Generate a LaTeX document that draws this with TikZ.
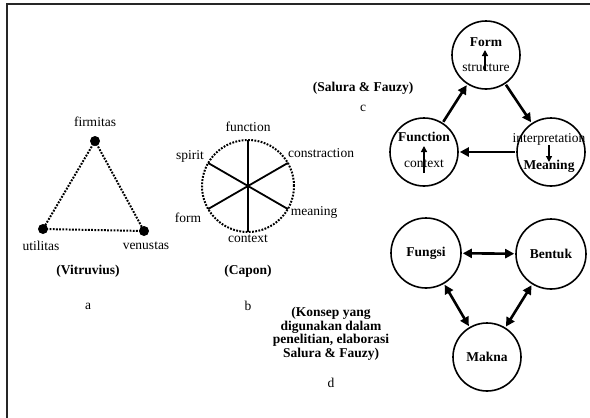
\documentclass[tikz,border=0pt]{standalone}
\usepackage{fontspec}
\setmainfont{Liberation Serif}
\usetikzlibrary{arrows.meta}
\begin{document}
\begin{tikzpicture}[x=1pt,y=-1pt,
  txt/.style={inner sep=1pt,font=\fontsize{13.5}{14}\selectfont},
  btxt/.style={inner sep=1pt,font=\fontsize{13.5}{14}\selectfont\bfseries},
  dot/.style={circle,fill=black,inner sep=0pt,minimum size=10pt},
  dotline/.style={line width=2pt,dash pattern=on 1.8pt off 1.4pt},
  ring/.style={circle,draw,line width=1.6pt,minimum size=68pt,inner sep=0pt},
  bigarrow/.style={line width=2.6pt,-{Triangle[length=9pt,width=9pt]},shorten <=1pt,shorten >=1pt},
  dblarrow/.style={line width=2.6pt,{Triangle[length=9pt,width=9pt]}-{Triangle[length=9pt,width=9pt]},shorten <=1pt,shorten >=1pt},
  smallarrow/.style={line width=1.3pt,-{Triangle[length=6pt,width=6pt]}}
]
\useasboundingbox (0,0) rectangle (590,418);
\fill[white] (0,0) rectangle (590,418);
% frame
\coordinate (fl) at (7,418);
\coordinate (fc) at (7,4);
\coordinate (fr) at (590,4);
\draw[line width=2pt,black!85] (fl) -- (fc) -- (fr);

% ---- a: Vitruvius
\node[dot] (fir) at (95,141) {};
\node[dot] (uti) at (43,229) {};
\node[dot] (ven) at (144,231) {};
\draw[dotline] (fir.center) -- (uti.center) -- (ven.center) -- (fir.center);
\node[txt] (tfir) at (95,122) {firmitas};
\node[txt] (tuti) at (41,246) {utilitas};
\node[txt] (tven) at (146,246) {venustas};
\node[btxt] (tvit) at (88,271) {(Vitruvius)};
\node[txt] (la) at (88,306) {a};

% ---- b: Capon
\node[circle,draw,dotline,minimum size=92pt,inner sep=0pt] (bcirc) at (248,186) {};
\coordinate (btop) at (248,140);
\coordinate (bbot) at (248,232);
\coordinate (bsp) at (208.2,163);
\coordinate (bco) at (287.8,163);
\coordinate (bfo) at (208.2,209);
\coordinate (bme) at (287.8,209);
\draw[line width=1.8pt] (btop) -- (bbot);
\draw[line width=1.8pt] (bsp) -- (bme);
\draw[line width=1.8pt] (bco) -- (bfo);
\node[txt] (tfun) at (248,127) {function};
\node[txt] (tspi) at (190,156) {spirit};
\node[txt] (tcon) at (321,153) {constraction};
\node[txt] (tfor) at (188,218) {form};
\node[txt] (tmea) at (314,212) {meaning};
\node[txt] (tctx) at (248,239) {context};
\node[btxt] (tcap) at (248,271) {(Capon)};
\node[txt] (lb) at (248,306) {b};

% ---- c: Salura & Fauzy
\node[ring] (form) at (486,55) {};
\node[ring] (func) at (424,152) {};
\node[ring] (mean) at (551,152) {};
\node[btxt] (tform) at (486,42) {Form};
\node[txt] (tstru) at (486,68) {structure};
\node[btxt] (tfunc) at (424,137) {Function};
\node[txt] (tcont) at (424,164) {context};
\node[txt] (tinte) at (549,139) {interpretation};
\node[btxt] (tmean) at (549,166) {Meaning};
\coordinate (sa0) at (485,71);
\coordinate (sa1) at (485,50);
\coordinate (ca0) at (424,173);
\coordinate (ca1) at (424,146);
\coordinate (ma0) at (549,145);
\coordinate (ma1) at (549,162);
\draw[smallarrow] (sa0) -- (sa1);
\draw[smallarrow] (ca0) -- (ca1);
\draw[smallarrow] (ma0) -- (ma1);
\draw[bigarrow] (func) -- (form);
\draw[bigarrow] (form) -- (mean);
\draw[bigarrow] (mean) -- (func);
\node[btxt] (tsal) at (363,88) {(Salura \& Fauzy)};
\node[txt] (lc) at (363,108) {c};

% ---- d
\node[ring,minimum size=70pt] (fung) at (426,253) {};
\node[ring,minimum size=70pt] (bent) at (551,254) {};
\node[ring,minimum size=68pt] (makn) at (487,357) {};
\node[btxt] (tfung) at (fung) {Fungsi};
\node[btxt] (tbent) at (bent) {Bentuk};
\node[btxt] (tmakn) at (makn) {Makna};
\draw[dblarrow] (fung) -- (bent);
\draw[dblarrow] (fung) -- (makn);
\draw[dblarrow] (bent) -- (makn);
\node[btxt,align=center,font=\fontsize{13.5}{13.5}\selectfont\bfseries] (tkon) at (331,334) {(Konsep yang\\digunakan dalam\\penelitian, elaborasi\\Salura \& Fauzy)};
\node[txt] (ld) at (331,383) {d};
\end{tikzpicture}
\end{document}
